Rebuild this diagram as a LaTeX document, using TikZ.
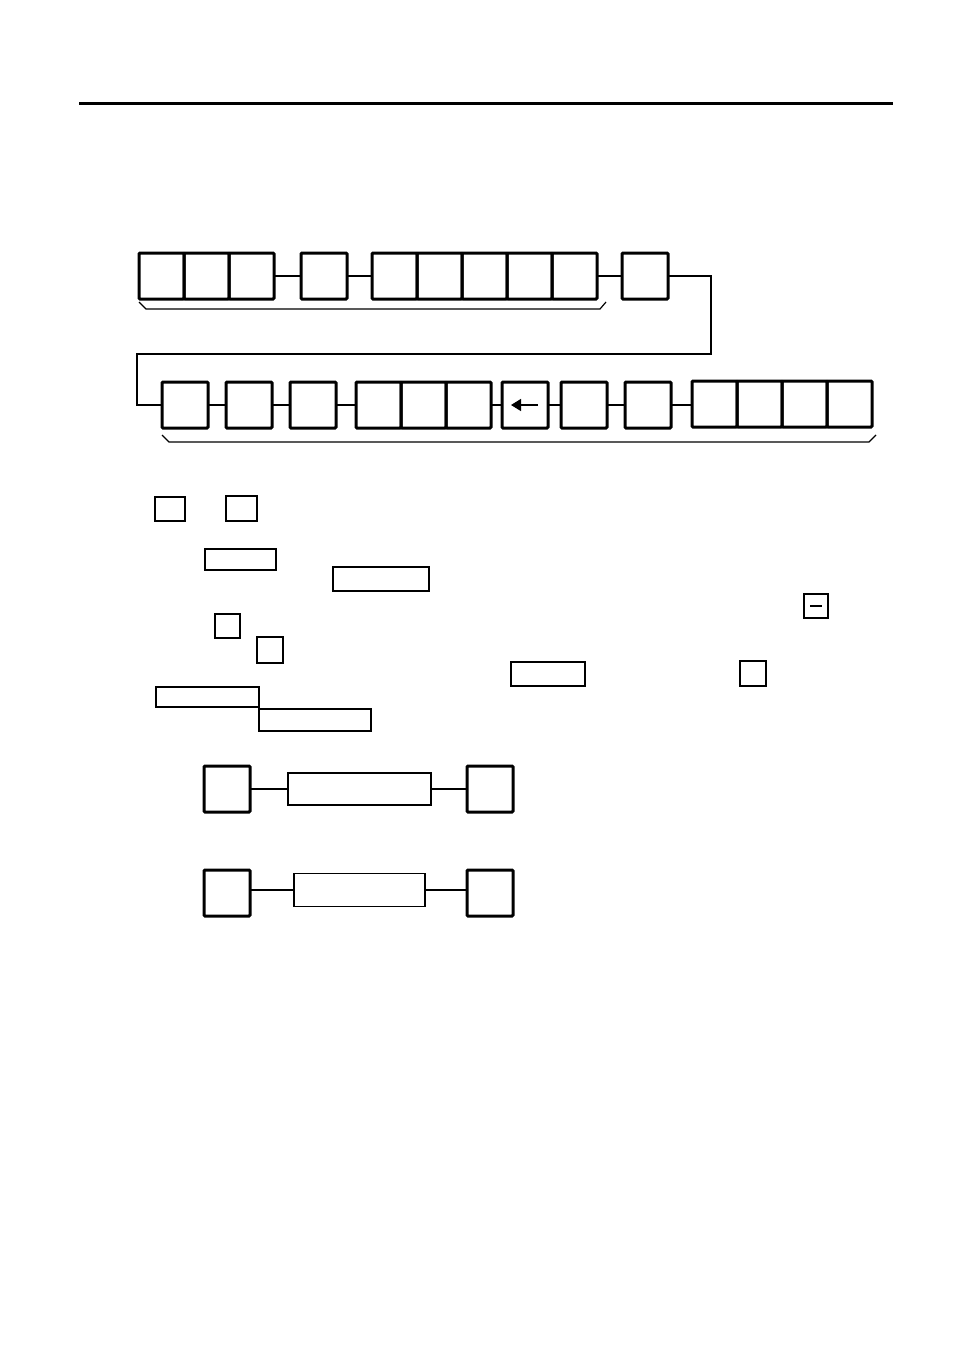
\documentclass[tikz,border=0pt]{standalone}
\usetikzlibrary{arrows.meta}
\tikzset{
  key/.style={draw,line width=3pt,rounded corners=1pt,inner sep=0pt,outer sep=0pt,
    minimum width=46pt,minimum height=46pt},
  cell/.style={key,minimum width=45pt},
  smallkey/.style={draw,line width=1.3pt,inner sep=0pt,outer sep=0pt},
  link/.style={line width=1.4pt},
  brace/.style={line width=1.2pt}
}
\begin{document}
\begin{tikzpicture}[x=1pt,y=-1pt]
\useasboundingbox (0,0) rectangle (954,1351);
\draw[line width=3pt] (79,104) -- (893,104);

% first row
\foreach \i/\x in {1/161.5,2/206.5,3/251.5}
  \node[cell] (a\i) at (\x,276) {};
\node[key] (b) at (324,276) {};
\foreach \i/\x in {1/394.5,2/439.5,3/484.5,4/529.5,5/574.5}
  \node[cell] (c\i) at (\x,276) {};
\node[key] (d) at (645,276) {};
\draw[link] (a3) -- (b);
\draw[link] (b) -- (c1);
\draw[link] (c5) -- (d);
\draw[brace] (139,302) -- (146,309) -- (600,309) -- (606,302);

% turn to second row
\coordinate (turnR) at (711,354);
\coordinate (turnL) at (137,354);

% second row
\node[key] (e) at (185,405) {};
\node[key] (f) at (249,405) {};
\node[key] (g) at (313,405) {};
\foreach \i/\x in {1/378.5,2/423.5,3/468.5}
  \node[cell] (h\i) at (\x,405) {};
\node[key] (bk) at (525,405) {};
\node[key] (i) at (584,405) {};
\node[key] (j) at (648,405) {};
\foreach \i/\x in {1/714.5,2/759.5,3/804.5,4/849.5}
  \node[cell] (k\i) at (\x,404) {};
\draw[-{Triangle[length=10pt,width=12pt]},line width=1.3pt] ([xshift=13pt]bk.center) -- ([xshift=-14pt]bk.center);
\draw[line width=1.1pt] (d.east) -| (turnR) -- (turnL) |- (e.west);
\draw[link] (e) -- (f);
\draw[link] (f) -- (g);
\draw[link] (g) -- (h1);
\draw[link] (h3) -- (bk);
\draw[link] (bk) -- (i);
\draw[link] (i) -- (j);
\draw[link] (j.east) -- (k1.west |- j.east);
\draw[brace] (162,435) -- (169,442) -- (869,442) -- (876,435);

% keys in the text
\node[smallkey,minimum width=30pt,minimum height=24pt] (s1) at (170,509) {};
\node[smallkey,line width=2.2pt,minimum width=31pt,minimum height=25pt] (s2) at (241.5,508.5) {};
\node[smallkey,line width=1.7pt,minimum width=71pt,minimum height=21pt] (s3) at (240.5,559.5) {};
\node[smallkey,line width=1.7pt,minimum width=96pt,minimum height=24pt] (s4) at (381,579) {};
\node[smallkey,minimum width=24pt,minimum height=24pt] (s5) at (816,606) {};
\draw[line width=1.1pt] ([xshift=-6pt]s5.center) -- ([xshift=6pt]s5.center);
\node[smallkey,line width=1.7pt,minimum width=25pt,minimum height=24pt] (s6) at (227.5,626) {};
\node[smallkey,line width=2.6pt,minimum width=26pt,minimum height=26pt] (s7) at (270,650) {};
\node[smallkey,minimum width=74pt,minimum height=24pt] (s8) at (548,674) {};
\node[smallkey,line width=2.2pt,minimum width=26pt,minimum height=25pt] (s9) at (753,673.5) {};
\node[smallkey,line width=1.7pt,minimum width=103pt,minimum height=20pt] (s10) at (207.5,697) {};
\node[smallkey,minimum width=112pt,minimum height=22pt] (s11) at (315,720) {};

% two short sequences
\node[key] (p1) at (227,789) {};
\node[smallkey,line width=1.7pt,minimum width=143pt,minimum height=32pt] (q1) at (359.5,789) {};
\node[key] (r1) at (490,789) {};
\draw[link] (p1) -- (q1);
\draw[link] (q1) -- (r1);

\node[key] (p2) at (227,893) {};
\node[smallkey,line width=1.7pt,minimum width=131pt,minimum height=33pt] (q2) at (359.5,890) {};
\node[key] (r2) at (490,893) {};
\draw[link] (q2.west -| p2.east) -- (q2.west);
\draw[link] (q2.east) -- (q2.east -| r2.west);

\end{tikzpicture}
\end{document}
